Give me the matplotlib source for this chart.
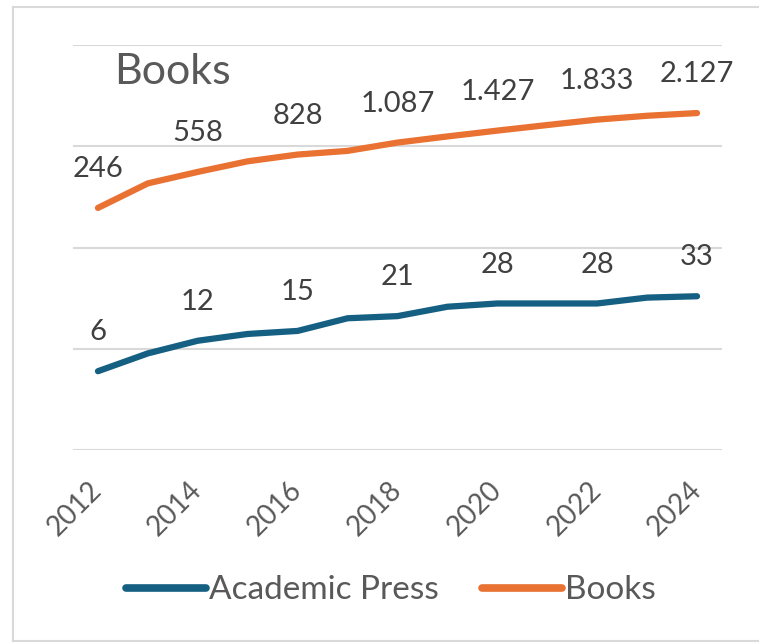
import numpy as np
import matplotlib.pyplot as plt
from matplotlib.lines import Line2D

years = list(range(2012, 2025))
academic = [6, 9, 12, 14, 15, 20, 21, 26, 28, 28, 28, 32, 33]
books = [246, 430, 558, 710, 828, 900, 1087, 1250, 1427, 1620, 1833, 2000, 2127]
tick_years = [2012, 2014, 2016, 2018, 2020, 2022, 2024]

blue = '#156082'
orange = '#E97132'
grid_c = '#D9D9D9'
text_c = '#595959'
label_c = '#404040'

plt.rcParams['font.family'] = ['Lato', 'DejaVu Sans']

fig = plt.figure(figsize=(7.59, 6.43), dpi=100)
ax = fig.add_axes([73/759, 1-450/643, (722-73)/759, (450-45)/643])

x = np.arange(len(years))
ax.plot(x, academic, color=blue, lw=4.5, solid_capstyle='round', solid_joinstyle='round')
ax.plot(x, books, color=orange, lw=4.5, solid_capstyle='round', solid_joinstyle='round')

def fmt(v):
    return '{:,}'.format(v).replace(',', '.')

# data labels on every other year
for i, yr in enumerate(years):
    if yr in tick_years:
        ax.annotate(fmt(academic[i]), (x[i], academic[i]), xytext=(0, 28),
                    textcoords='offset points', ha='center', va='center',
                    fontsize=21, color=label_c)
        ax.annotate(fmt(books[i]), (x[i], books[i]), xytext=(0, 28),
                    textcoords='offset points', ha='center', va='center',
                    fontsize=21, color=label_c)

ax.set_yscale('log')
ax.set_ylim(1, 10000)
ax.set_xlim(-0.5, len(years) - 0.5)
ax.set_yticks([1, 10, 100, 1000, 10000])
ax.yaxis.set_minor_locator(plt.NullLocator())
ax.set_yticklabels([])
ax.tick_params(axis='y', length=0)
ax.grid(axis='y', color=grid_c, lw=1.5)
ax.set_axisbelow(True)

ticks = [years.index(t) for t in tick_years]
ax.set_xticks(ticks)
ax.set_xticklabels([str(t) for t in tick_years], rotation=45, ha='right',
                   va='center', rotation_mode='anchor', fontsize=20, color=text_c)
ax.tick_params(axis='x', length=0, pad=26)
for s in ax.spines.values():
    s.set_visible(False)

ax.text(0.064, 0.98, 'Books', transform=ax.transAxes, fontsize=31,
        color=text_c, va='top', ha='left')

handles = [Line2D([], [], color=blue, lw=5.5, solid_capstyle='round'),
           Line2D([], [], color=orange, lw=5.5, solid_capstyle='round')]
fig.legend(handles, ['Academic Press', 'Books'], loc='center',
           bbox_to_anchor=(0.515, 0.082), ncol=2, frameon=False, fontsize=24,
           labelcolor=text_c, handlelength=2.4, handletextpad=0.1, columnspacing=1.3)

# chart border (left, top, bottom visible)
fig.add_artist(Line2D([13/759, 13/759], [1-7/643, 1-641/643], color=grid_c, lw=1.5))
fig.add_artist(Line2D([13/759, 1], [1-7/643, 1-7/643], color=grid_c, lw=1.5))
fig.add_artist(Line2D([13/759, 1], [1-641/643, 1-641/643], color=grid_c, lw=1.5))

fig.savefig('out.png', dpi=100)
